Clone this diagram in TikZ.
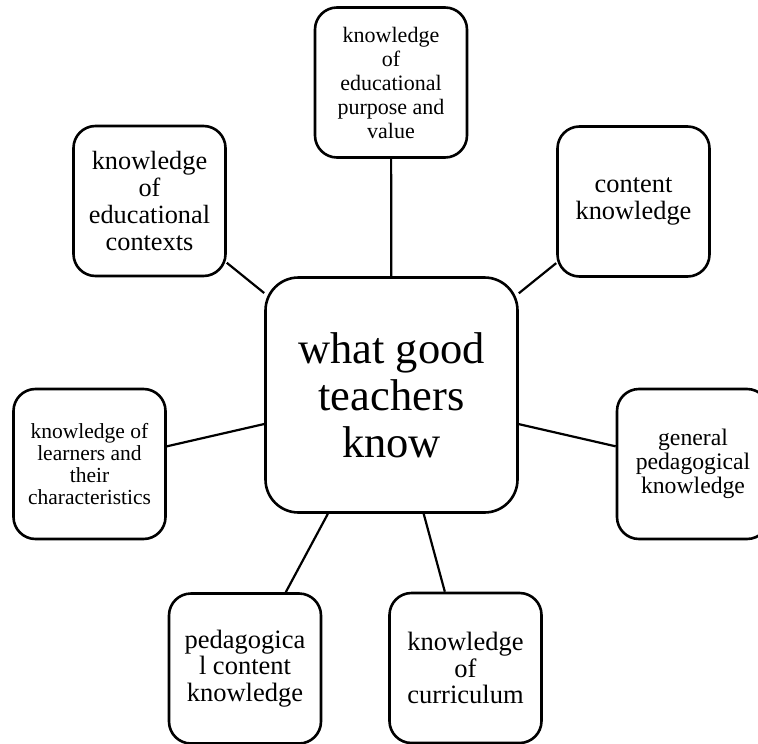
\documentclass[tikz,border=0pt]{standalone}
\usepackage{fontspec}
\setmainfont{Liberation Serif}
\usepackage{tikz}
\usetikzlibrary{positioning}

\newcommand\boxfont[2]{\fontsize{#1}{#2}\selectfont}

\begin{document}
\begin{tikzpicture}[x=1pt,y=-1pt,
  topic/.style={draw,rounded corners=22pt,line width=2.6pt,minimum width=152pt,
    minimum height=150pt,inner sep=0pt,align=center,font=\boxfont#1},
  hub/.style={draw,rounded corners=33pt,line width=2.6pt,minimum width=252pt,
    minimum height=235pt,inner sep=0pt,align=center,font=\boxfont{44.5}{47}},
  link/.style={line width=2.2pt}]
\useasboundingbox (0,0) rectangle (758,744);
\node[hub] (know) at (391.5,395) {what good\\teachers\\know};
% the seven kinds of knowledge around it
\node[topic={22}{24}] (purp) at (391,82.5) {knowledge\\of\\educational\\purpose and\\value};
\node[topic={26.4}{27}] (cont) at (633.5,201.5) {content\\knowledge};
\node[topic={26.3}{27}] (ctx) at (149.5,201) {knowledge\\of\\educational\\contexts};
\node[topic={23.7}{24}] (gpk) at (693,464) {general\\pedagogical\\knowledge};
\node[topic={21.5}{22}] (lrn) at (89.5,464) {knowledge of\\learners and\\their\\characteristics};
\node[topic={26.5}{26.5}] (pck) at (245,668.5) {pedagogica\\l content\\knowledge};
\node[topic={26.5}{26.5}] (curr) at (465.5,668) {knowledge\\of\\curriculum};
\draw[link] (know) -- (purp);
\draw[link] (know) -- (cont);
\draw[link] (know) -- (ctx);
\draw[link] (know) -- (gpk);
\draw[link] (know) -- (lrn);
\draw[link] (know) -- (pck);
\draw[link] (know) -- (curr);
\end{tikzpicture}
\end{document}
